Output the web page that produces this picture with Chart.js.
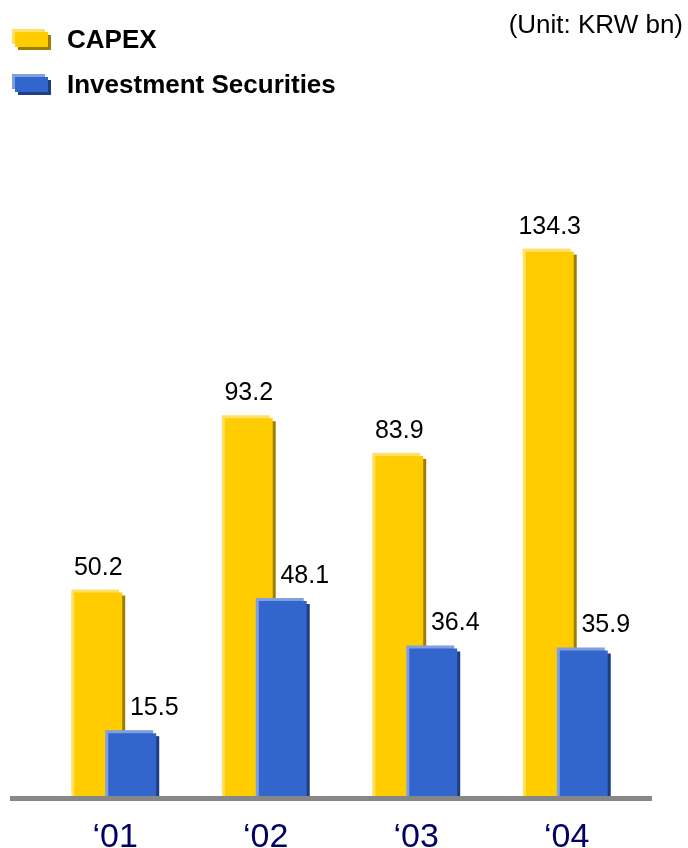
<!DOCTYPE html>
<html>
<head>
<meta charset="utf-8">
<script src="https://cdn.jsdelivr.net/npm/chart.js@4/dist/chart.umd.min.js"></script>
<style>
html,body{margin:0;padding:0;background:#ffffff;}
#wrap{position:relative;width:688px;height:848px;overflow:hidden;}
canvas{display:block;}
</style>
</head>
<body>
<div id="wrap"><canvas id="c" width="688" height="848"></canvas></div>
<script>
// ---- data ----
const categories = ["\u201801", "\u201802", "\u201803", "\u201804"];
const capex = [50.2, 93.2, 83.9, 134.3];
const investment = [15.5, 48.1, 36.4, 35.9];
const seriesNames = ["CAPEX", "Investment Securities"];
const unitLabel = "(Unit: KRW bn)";

// ---- styles ----
const FONT = '"Liberation Sans", Arial, Helvetica, sans-serif';
const palettes = [
  { main: '#FFCC00', light: '#FFE066', dark: '#9E7E00' },
  { main: '#3366CC', light: '#809FE0', dark: '#1F3D80' }
];
const labelOffsetX = [0, 22];

function drawDecor(ctx, meta, pal) {
  meta.data.forEach(el => {
    const p = el.getProps(['x', 'y', 'base', 'width'], true);
    const left = p.x - p.width / 2;
    ctx.fillStyle = pal.dark;
    ctx.fillRect(left + 3, p.y + 3, p.width, p.base - p.y - 3);
    ctx.fillStyle = pal.light;
    ctx.fillRect(left - 3, p.y - 3, p.width, p.base - p.y + 3);
  });
}

const bar3d = {
  id: 'bar3d',
  beforeDatasetDraw(chart, args) {
    if (args.index === 1) return false; // drawn later, on top
    drawDecor(chart.ctx, args.meta, palettes[args.index]);
  },
  afterDatasetsDraw(chart) {
    const ctx = chart.ctx;
    const meta1 = chart.getDatasetMeta(1);
    ctx.save();
    drawDecor(ctx, meta1, palettes[1]);
    meta1.controller.draw();
    ctx.restore();

    const ys = chart.scales.y, xs = chart.scales.x;
    const ca = chart.chartArea;
    const zero = ys.getPixelForValue(0);
    // axis line
    ctx.save();
    ctx.fillStyle = '#878787';
    ctx.fillRect(ca.left - 30, zero, (ca.right + 10) - (ca.left - 30), 5);

    // value labels
    ctx.fillStyle = '#000000';
    ctx.font = '25px ' + FONT;
    ctx.textAlign = 'center';
    ctx.textBaseline = 'alphabetic';
    [0, 1].forEach(di => {
      const meta = chart.getDatasetMeta(di);
      const vals = chart.data.datasets[di].data;
      meta.data.forEach((el, i) => {
        const p = el.getProps(['x', 'y'], true);
        ctx.fillText(vals[i].toFixed(1), p.x + labelOffsetX[di], p.y - 18);
      });
    });

    // category labels
    ctx.fillStyle = '#000066';
    ctx.font = '34px ' + FONT;
    categories.forEach((c, i) => {
      ctx.fillText(c, xs.getPixelForValue(i), 847);
    });

    // legend
    const legendRows = [48, 93];
    seriesNames.forEach((name, i) => {
      const pal = palettes[i];
      const top = legendRows[i] - 19;
      ctx.fillStyle = pal.dark;  ctx.fillRect(18, top + 6, 33, 15);
      ctx.fillStyle = pal.light; ctx.fillRect(12, top, 33, 15);
      ctx.fillStyle = pal.main;  ctx.fillRect(15, top + 3, 33, 15);
      ctx.fillStyle = '#000000';
      ctx.font = 'bold 26px ' + FONT;
      ctx.textAlign = 'left';
      ctx.fillText(name, 67, legendRows[i]);
    });

    // unit
    ctx.font = '26px ' + FONT;
    ctx.textAlign = 'right';
    ctx.fillText(unitLabel, 683, 33);
    ctx.restore();
  }
};

new Chart(document.getElementById('c'), {
  type: 'bar',
  data: {
    labels: categories,
    datasets: [
      { label: seriesNames[0], data: capex, backgroundColor: palettes[0].main,
        categoryPercentage: 0.452, barPercentage: 1.41 },
      { label: seriesNames[1], data: investment, backgroundColor: palettes[1].main,
        categoryPercentage: 0.452, barPercentage: 1.41 }
    ]
  },
  options: {
    responsive: false,
    animation: false,
    devicePixelRatio: 1,
    layout: { padding: { left: 40, right: 46, top: 188, bottom: 52 } },
    scales: {
      x: { display: false },
      y: { display: false, min: 0, max: 150 }
    },
    plugins: { legend: { display: false }, tooltip: { enabled: false } }
  },
  plugins: [bar3d]
});
</script>
</body>
</html>
